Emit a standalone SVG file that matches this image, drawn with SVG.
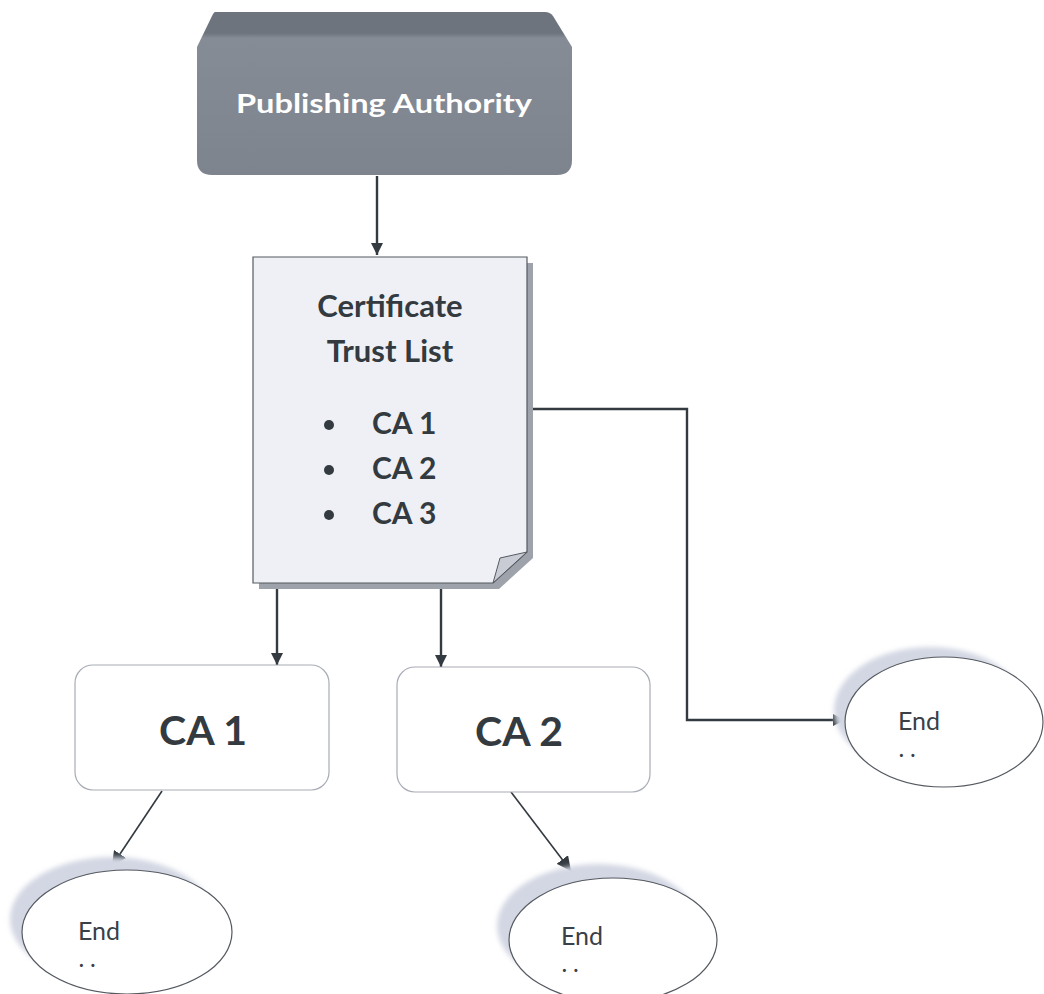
<svg xmlns="http://www.w3.org/2000/svg" width="1044" height="994" viewBox="0 0 1044 994">
<style>
.t{font-family:Lato,"Open Sans","Liberation Sans",sans-serif;font-weight:bold;fill:#333a40}
.end{font-family:Lato,"Open Sans","Liberation Sans",sans-serif;fill:#3a4048;font-size:25px}
.dots{font-family:Lato,"Open Sans","Liberation Sans",sans-serif;fill:#3a4048;font-size:20px;font-weight:bold;letter-spacing:1px}
.box{fill:#ffffff;stroke:#a8acb4;stroke-width:1.2}
.ell{fill:#ffffff;stroke:#555a60;stroke-width:1.2}
.sh{fill:#d3d7e3}
.c{fill:none;stroke:#333a40;stroke-width:2.4}
.c2{fill:none;stroke:#333a40;stroke-width:1.6}
</style>
<defs>
<marker id="ah" viewBox="0 0 10 10" refX="10" refY="5" markerWidth="5" markerHeight="5" orient="auto" markerUnits="strokeWidth">
<path d="M0,0 L10,5 L0,10 z" fill="#333a40"/>
</marker>
<marker id="ah2" viewBox="0 0 10 10" refX="10" refY="5" markerWidth="9" markerHeight="9" orient="auto" markerUnits="strokeWidth">
<path d="M0,0 L10,5 L0,10 z" fill="#333a40"/>
</marker>
<filter id="blur" x="-20%" y="-20%" width="140%" height="140%">
<feGaussianBlur stdDeviation="2.5"/>
</filter>
<linearGradient id="pa" x1="0" y1="0" x2="0" y2="1">
<stop offset="0" stop-color="#6e747e"/>
<stop offset="0.13" stop-color="#6e747e"/>
<stop offset="0.16" stop-color="#868c96"/>
<stop offset="1" stop-color="#7e848e"/>
</linearGradient>
</defs>
<rect width="1044" height="994" fill="#ffffff"/>

<g id="connectors">
<line class="c" x1="377" y1="176" x2="377" y2="255" marker-end="url(#ah)"/>
<line class="c" x1="277" y1="588" x2="277" y2="665" marker-end="url(#ah)"/>
<line class="c" x1="441" y1="588" x2="441" y2="667" marker-end="url(#ah)"/>
<polyline class="c" points="528,409 687,409 687,720 845,720" marker-end="url(#ah)"/>
<line class="c2" x1="162" y1="791" x2="112" y2="866" marker-end="url(#ah2)"/>
<line class="c2" x1="511" y1="792" x2="571" y2="871" marker-end="url(#ah2)"/>
</g>

<g id="publishing-authority">
<path d="M215,12 L545,12 Q550,12 553,16 L572,47 L572,160 Q572,175 557,175 L212,175 Q197,175 197,160 L197,47 L212,16 Q214,12 215,12 z" fill="url(#pa)"/>
<text class="t" x="384" y="113" text-anchor="middle" font-size="26" style="fill:#ffffff" textLength="296" lengthAdjust="spacingAndGlyphs">Publishing Authority</text>
</g>

<g id="certificate-trust-list">
<path d="M259,263 L533,263 L533,558 L499,589 L259,589 z" fill="#9ea2aa"/>
<path d="M253,257 L527,257 L527,552 L493,583 L253,583 z" fill="#eef0f5" stroke="#555a60" stroke-width="1.2"/>
<path d="M527,552 L500,558 L493,583 z" fill="#c9ccd4" stroke="#555a60" stroke-width="1"/>
<text class="t" x="390" y="317" text-anchor="middle" font-size="31">Certificate</text>
<text class="t" x="390" y="362" text-anchor="middle" font-size="31">Trust List</text>
<circle cx="329" cy="425" r="5" fill="#333a40"/>
<circle cx="329" cy="470" r="5" fill="#333a40"/>
<circle cx="329" cy="515" r="5" fill="#333a40"/>
<text class="t" x="372" y="434" font-size="30">CA 1</text>
<text class="t" x="372" y="479" font-size="30">CA 2</text>
<text class="t" x="372" y="524" font-size="30">CA 3</text>
</g>

<g id="ca1">
<rect class="box" x="75" y="665" width="254" height="125" rx="18"/>
<text class="t" x="203" y="745" text-anchor="middle" font-size="41">CA 1</text>
</g>

<g id="ca2">
<rect class="box" x="397" y="667" width="253" height="125" rx="18"/>
<text class="t" x="519" y="746" text-anchor="middle" font-size="41">CA 2</text>
</g>

<g id="end1">
<ellipse class="sh" cx="112" cy="919" rx="102" ry="62" filter="url(#blur)"/>
<ellipse class="ell" cx="127" cy="932" rx="105" ry="62"/>
<text class="end" x="78" y="940">End</text>
<text class="dots" x="79" y="967">. .</text>
</g>

<g id="end2">
<ellipse class="sh" cx="598" cy="926" rx="101" ry="62" filter="url(#blur)"/>
<ellipse class="ell" cx="613" cy="940" rx="104" ry="62"/>
<text class="end" x="561" y="945">End</text>
<text class="dots" x="562" y="972">. .</text>
</g>

<g id="end3">
<ellipse class="sh" cx="930" cy="710" rx="96" ry="63" filter="url(#blur)"/>
<ellipse class="ell" cx="944" cy="722" rx="99" ry="65"/>
<text class="end" x="898" y="730">End</text>
<text class="dots" x="899" y="757">. .</text>
</g>
</svg>
